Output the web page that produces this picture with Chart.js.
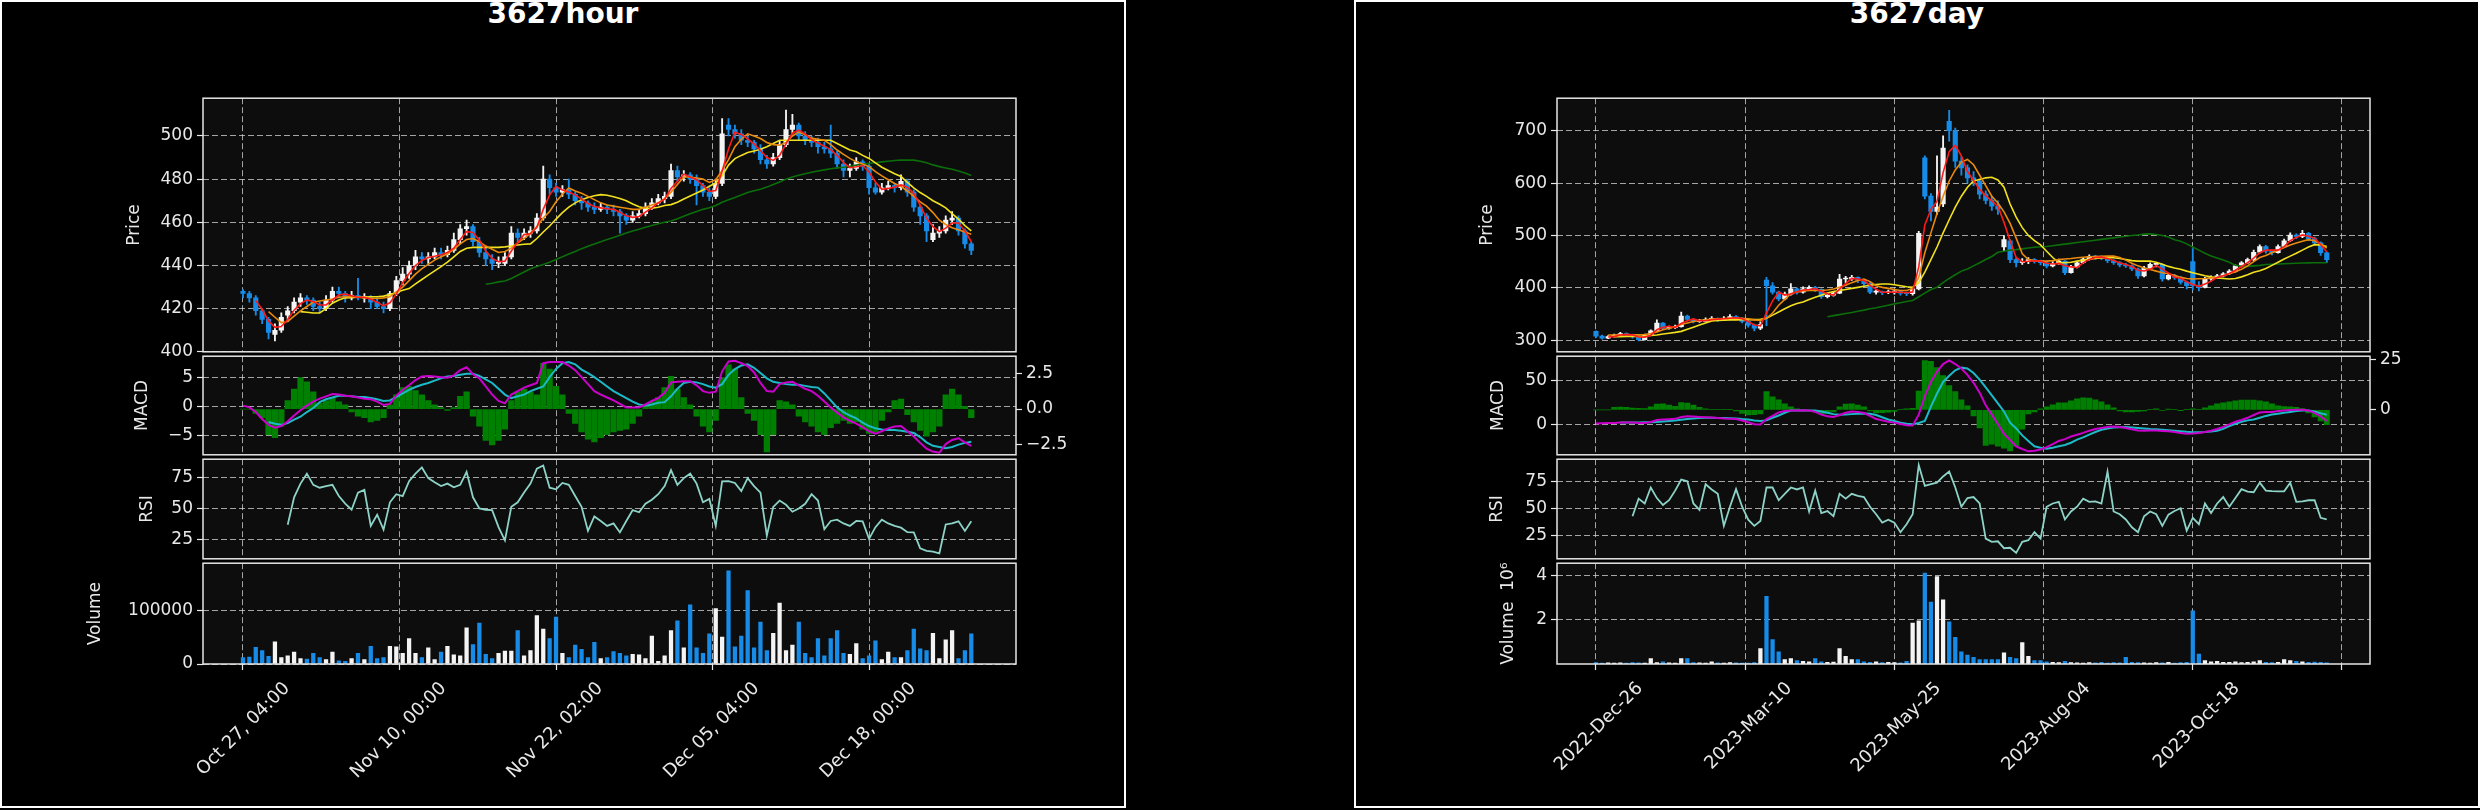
<!DOCTYPE html>
<html>
<head>
<meta charset="utf-8">
<title>3627</title>
<script src="https://cdn.jsdelivr.net/npm/chart.js@4.4.1/dist/chart.umd.min.js"></script>
<style>
html, body { margin: 0; padding: 0; background: #000; }
body { width: 2480px; height: 810px; position: relative; overflow: hidden; }
.fig { position: absolute; top: 0; width: 1126px; height: 808px; border: 2px solid #fff; box-sizing: border-box; }
.ttl { position: absolute; top: 0; width: 1126px; text-align: center; color: #fff; font: bold 28px/28px 'DejaVu Sans', sans-serif; }
canvas { position: absolute; }
</style>
</head>
<body>
<div class="fig" style="left:0"></div>
<div class="fig" style="left:1354px"></div>
<div class="ttl" style="left:0">3627hour</div>
<div class="ttl" style="left:1354px">3627day</div>
<script>
/*######################## DATOS ########################*/
const pad = n => Array(n).fill(null);

// ---- 3627hour (one entry every two hourly bars) ----
const hourTickPos = [0, 24.5, 49, 73.5, 98];
const hourTickLabels = ['Oct 27, 04:00', 'Nov 10, 00:00', 'Nov 22, 02:00', 'Dec 05, 04:00', 'Dec 18, 00:00'];

const hourOpen = [
	428,427,425,419,415,408,410,417,419,423,
	425,424,421,420,424,428,427,425,426,425,
	425,423,421,420,427,433,436,440,444,443,
	444,446,445,447,452,457,458,451,446,443,
	441,441,444,455,453,455,456,462,480,476,
	474,475,473,470,469,467,466,467,466,465,
	463,461,463,464,467,469,471,472,484,481,
	482,480,477,474,472,478,505,503,501,498,
	497,494,489,487,490,496,503,505,500,498,
	497,495,494,492,487,484,485,488,486,476,
	474,476,477,476,479,474,467,463,452,455,
	456,461,462,456,450];
const hourHigh = [
	429,428,426,420,416,413,418,421,425,427,
	426,425,423,426,430,430,428,428,434,427,
	426,425,423,428,435,439,442,447,446,446,
	448,448,449,455,459,461,459,453,448,445,
	444,446,458,457,457,458,464,486,482,478,
	477,480,474,472,470,469,469,468,468,466,
	464,465,466,469,471,473,474,487,486,484,
	483,482,478,476,480,508,508,505,503,500,
	498,496,491,492,498,512,510,506,502,500,
	499,497,505,493,489,487,490,489,487,478,
	478,479,478,482,480,475,468,464,459,458,
	463,465,463,457,451];
const hourLow = [
	425,423,417,413,406,405,409,414,418,421,
	422,419,418,419,423,425,423,424,424,423,
	420,420,418,419,426,431,434,438,441,441,
	443,443,444,446,450,454,449,444,440,438,
	439,440,443,451,452,453,455,461,473,472,
	472,471,468,466,465,464,465,464,463,455,
	459,460,462,463,466,468,469,471,479,479,
	478,468,472,470,471,477,500,499,496,495,
	492,487,485,486,489,495,501,498,496,495,
	492,492,490,485,481,481,484,484,473,473,
	473,475,474,475,472,465,459,451,451,453,
	455,459,454,448,445];
const hourClose = [
	427,425,419,415,409,410,416,419,423,425,
	424,421,420,424,428,427,425,426,425,425,
	423,421,420,427,433,436,440,444,443,444,
	446,445,447,452,457,458,451,446,443,441,
	441,444,455,453,455,456,462,480,476,474,
	475,473,470,469,467,466,467,466,465,463,
	461,463,464,467,469,471,472,484,481,482,
	480,477,474,472,478,501,503,501,498,497,
	494,489,487,490,496,503,505,500,498,497,
	495,494,492,487,484,485,488,486,476,474,
	476,477,476,479,474,467,463,456,455,456,
	461,462,456,450,447];
const hourVolume = [
	12000,13000,31000,25000,14000,41000,12000,15000,22000,10000,
	9000,20000,12000,8000,22000,6000,5000,10000,20000,8000,
	33000,10000,12000,33000,32000,20000,47000,20000,12000,30000,
	8000,22000,33000,17000,15000,67000,36000,76000,18000,10000,
	20000,24000,24000,62000,15000,25000,90000,65000,47000,87000,
	20000,12000,35000,27000,12000,40000,10000,12000,23000,20000,
	15000,18000,17000,10000,52000,5000,15000,62000,80000,30000,
	110000,30000,20000,56000,103000,50000,173000,32000,52000,136000,
	30000,78000,25000,57000,113000,25000,35000,78000,20000,12000,
	47000,15000,47000,62000,20000,18000,38000,10000,15000,43000,
	8000,22000,12000,12000,25000,65000,28000,25000,57000,10000,
	45000,62000,10000,25000,56000];
const hourMaRed = [...pad(2),
	423.7,419.7,414.3,411.3,411.7,415,419.3,422.3,
	424,423.3,421.7,421.7,424,426.3,426.7,426,425.3,425.3,
	424.3,423,421.3,422.7,426.7,432,436.3,440,442.3,443.7,
	444.3,445,446,448,452,455.7,455.3,451.7,446.7,443.3,
	441.7,442,446.7,450.7,454.3,454.7,457.7,466,472.7,476.7,
	475,474,472.7,470.7,468.7,467.3,466.7,466.3,466,464.7,
	463,462.3,462.7,464.7,466.7,469,470.7,475.7,479,482.3,
	481,479.7,477,474.3,474.7,483.7,494,501.7,500.7,498.7,
	496.3,493.3,490,488.7,491,496.3,501.3,502.7,501,498.3,
	496.7,495.3,493.7,491,487.7,485.3,485.7,486.3,483.3,478.7,
	475.3,475.7,476.3,477.3,476.3,473.3,468,462,458,455.7,
	457.3,459.7,459.7,456,451];
const hourMaOrange = [...pad(4),
	418.6,416,413.5,414,416.5,419,
	421,423,423.5,424,424.5,425.3,425.5,425.5,425.3,425,
	424.8,424.7,425,425.5,427.8,430,433,436,438.5,440.5,
	442.5,444,445.3,447.5,450,452,452.5,451,449,447.5,
	446,446.5,448,450.5,452.5,455,458,462,465,469.5,
	473,475.9,474.5,473.5,472,470.5,469,468,467.5,467,
	466.5,466,466,467,468,469,471,474,477.5,481,
	481,480.5,480,478.5,479.7,484,489,495,498.5,501,
	500,498.8,497,496,495.7,497,500,501.8,500.5,499,
	498.5,498,496,493.5,491.5,489.6,488,487,485.8,483.5,
	481.5,479.7,478,476.6,474.5,472,469.5,467.5,464.5,461,
	459,457.5,456.5,455.5,454.5];
const hourMaYellow = [...pad(9),
	418.6,
	418.3,418,418,420,422.5,424,425,425.2,425.3,425.4,
	425.5,425.5,425.8,426.5,427.5,428.5,429.3,431.5,433.5,435.5,
	437.5,439.5,441.5,444,446.5,448,448.4,448.4,448.4,448.4,
	448.4,448.6,449,449.5,449.8,450,452.5,455.5,458.3,461.5,
	464.5,467,469,470.5,471.5,472.3,472.8,472.5,471.8,471,
	470,468.5,467.2,466.5,466.5,467,467.8,468.2,469.3,470.8,
	472.2,473.6,475,476.7,478.2,481.5,486.5,489.5,491,492.3,
	493,493.8,495,496.5,498,498,498,498,498,498,
	498,498,498,496.5,495,493.5,492.7,491,489.6,487.5,
	485.5,484,482.5,481.2,478.5,476,473.8,472,470,468.5,
	466.7,464,461.5,458.5,456];
const hourMaGreen = [...pad(38),
	431.3,431.8,
	432.4,432.8,434,435.5,437,438.5,439.5,440.5,441.5,442.8,
	444,445.3,446.5,447.8,448.9,450,451,452,453,454,
	455,456,456.8,457.7,458.5,459.3,460,460.6,461.6,462.8,
	464,465,466,466.7,467.8,469.3,470.5,471.5,472.7,473.8,
	474.6,475.3,476.3,477.5,478.7,480,481,481.8,482.5,483.2,
	483.8,484.3,484.8,485.2,485.5,486,486.5,487,487.3,487.6,
	488,488.3,488.6,488.8,488.9,488.8,488.3,487.6,486.6,485.8,
	485.2,484.6,483.8,482.8,481.7];
const hourMacd = [
	0.1,-0.2,-1.0,-2.2,-3.2,-3.7,-3.4,-2.6,-1.6,-0.7,
	0.1,0.8,1.3,1.7,2.1,2.0,1.8,1.7,1.5,1.3,
	1.2,0.8,0.2,0.4,1.8,2.8,3.6,4.5,5.1,5.2,
	5.1,5.0,4.9,5.3,6.2,6.7,5.5,4.8,3.4,2.0,
	0.9,0.5,2.0,2.6,3.2,3.6,4.0,7.4,7.6,7.6,
	7.6,7.0,6.2,5.0,3.8,2.6,2.0,1.5,1.0,0.4,
	-0.2,-0.2,-0.2,0.3,0.9,1.4,2.3,4.1,4.2,4.3,
	4.3,3.6,2.6,2.3,2.5,6.0,7.7,7.8,7.4,6.9,
	5.8,4.0,2.6,2.5,3.8,4.1,4.2,3.6,3.0,2.6,
	1.8,0.8,-0.2,-1.1,-1.9,-2.5,-3.0,-3.6,-4.3,-4.7,
	-4.3,-3.8,-3.5,-3.4,-4.3,-5.2,-6.3,-7.3,-7.8,-8.0,
	-6.5,-5.8,-5.5,-6.2,-6.8];
const hourSignal = [...pad(4),
	-2.7,-3.0,-3.2,-2.9,-2.3,-1.8,
	-1.0,-0.3,0.7,1.2,1.5,1.8,1.8,1.7,1.6,1.6,
	1.4,1.2,0.9,1.0,1.6,2.2,2.8,3.3,3.7,4.0,
	4.4,4.8,5.1,5.2,5.4,5.6,5.6,5.2,4.6,4.0,
	3.0,2.0,1.4,1.7,2.0,2.6,3.0,3.4,5.0,6.4,
	7.4,7.6,7.2,6.3,5.7,5.0,4.2,3.4,2.6,2.0,
	1.4,0.8,0.3,0.1,0.3,0.6,0.7,1.7,3.0,4.0,
	4.2,4.1,3.8,3.4,3.2,3.8,5.4,6.4,7.0,7.2,
	6.6,5.7,4.8,4.2,4.0,3.8,3.7,3.7,3.5,3.3,
	3.2,2.2,1.0,-0.2,-1.0,-1.6,-2.1,-2.8,-3.4,-3.8,
	-4.0,-4.1,-4.1,-4.2,-4.4,-4.6,-5.3,-6.2,-6.8,-7.0,
	-7.2,-7.0,-6.6,-6.3,-6.1];
const hourHist = [
	0,0,-0.3,-0.6,-1.8,-2.0,-1.2,0.6,1.4,2.2,
	1.9,1.2,0.4,0.6,0.8,0.5,0.3,-0.2,-0.5,-0.6,
	-0.9,-0.8,-0.6,0.3,1.0,1.5,1.6,1.3,1.0,0.6,
	0.3,0.1,-0.1,0.1,0.9,1.2,-0.5,-1.2,-2.2,-2.5,
	-2.2,-1.4,0.6,1.2,1.4,1.2,1.0,3.2,2.8,1.6,
	1.0,-0.3,-1.0,-1.6,-2.1,-2.3,-2.0,-1.8,-1.6,-1.5,
	-1.4,-1.0,-0.5,0.3,0.5,0.8,1.5,2.3,1.4,0.8,
	0.3,-0.5,-1.2,-1.6,-0.8,2.2,3.1,2.8,0.8,-0.3,
	-0.8,-1.8,-3.0,-1.8,0.6,0.5,0.3,-0.5,-0.9,-1.2,
	-1.6,-1.8,-1.3,-1.0,-0.8,-1.0,-0.9,-1.4,-1.7,-1.6,
	-0.8,-0.2,0.6,0.7,-0.4,-0.9,-1.5,-1.9,-1.6,-1.2,
	1.0,1.4,1.0,0.2,-0.6];
const hourRsi = [...pad(7),
	37,59,70,
	78,69,66.7,68,69,60,54,49,62.8,65,
	36,45,33,55,61.5,60,72,78,83,74.4,
	71,68,70,67,69,79.5,59,50,49,48.7,
	35,24.4,51.3,55,62.8,70,82,84.6,66.7,65.4,
	70.5,69,60,51.3,32,43.6,40,36,38,30.8,
	40,48.7,47,53.8,57,61.5,68,80.8,69,74.4,
	78,70,55,57.7,36,71.8,72,70.5,64,74.4,
	68,62.8,28.2,51.3,56.4,53,47.4,50,53.8,61.5,
	56.4,33.3,40,41,38,36,40,39.7,25.6,35,
	41,38,36,34.6,31,30.8,18,16,15.4,14,
	37.2,38,39.7,32,39.7];

// ---- 3627day (one entry every two daily bars) ----
const dayTickPos = [0, 24.5, 49, 73.5, 98, 122.5];
const dayTickLabels = ['2022-Dec-26', '2023-Mar-10', '2023-May-25', '2023-Aug-04', '2023-Oct-18', ''];

const dayOpen = [
	317,308,304,307,310,313,311,307,301,310,
	318,333,323,324,326,346,340,336,336,340,
	342,339,342,345,342,336,329,323,415,404,
	392,379,388,398,392,398,401,397,383,386,
	390,417,417,420,414,408,392,392,391,392,
	393,390,389,398,648,575,546,560,718,700,
	642,629,610,604,579,567,556,478,490,454,
	448,450,454,451,448,442,447,451,429,440,
	448,455,460,459,457,452,448,444,442,436,
	423,438,445,445,417,424,420,411,450,404,
	401,417,420,423,427,432,442,448,454,468,
	479,470,467,479,490,501,498,504,494,486,467];
const dayHigh = [
	318,310,309,312,315,314,312,308,312,320,
	339,334,327,329,354,348,342,340,343,345,
	343,345,349,347,343,338,331,335,420,410,
	394,392,408,400,402,404,403,398,390,393,
	426,422,424,421,416,410,396,394,396,395,
	394,392,400,508,652,580,652,690,739,705,
	650,635,622,608,585,575,566,500,492,458,
	456,458,456,453,450,450,455,452,443,450,
	458,463,462,461,458,454,450,447,444,438,
	441,448,447,446,427,426,422,413,475,412,
	420,423,426,429,435,444,450,457,472,482,
	481,472,482,493,505,503,510,506,497,488,469];
const dayLow = [
	305,302,303,306,309,309,304,299,300,309,
	317,320,321,322,325,337,333,334,335,338,
	336,338,341,340,333,325,318,320,328,388,
	375,377,386,388,390,395,393,380,381,384,
	389,410,414,410,404,389,388,387,389,388,
	386,385,386,396,570,528,540,555,680,630,
	615,600,595,570,560,548,540,470,448,440,
	445,446,447,444,438,440,445,425,428,438,
	446,453,455,454,448,445,440,439,433,418,
	421,436,440,413,415,416,407,398,396,394,
	400,414,418,421,425,430,440,446,452,466,
	466,463,466,477,488,494,496,490,482,462,448];
const dayClose = [
	308,304,307,310,313,311,307,301,310,318,
	333,323,324,326,346,340,336,336,340,342,
	339,342,345,342,336,329,323,330,404,392,
	379,388,398,392,398,401,397,383,386,390,
	417,417,420,414,408,392,392,391,392,393,
	390,389,398,504,575,546,554,667,700,642,
	629,610,604,579,567,556,550,492,454,448,
	450,454,451,448,442,447,451,429,440,448,
	455,460,459,457,452,448,444,442,436,423,
	438,445,445,417,424,420,411,404,404,401,
	417,420,423,427,432,442,448,454,468,479,
	470,467,479,490,501,498,504,494,486,467,454];
const dayVolume = [
	60000,40000,50000,45000,55000,40000,60000,50000,45000,250000,
	60000,100000,50000,40000,250000,240000,60000,50000,40000,100000,
	50000,40000,60000,50000,45000,40000,60000,700000,3050000,1100000,
	550000,200000,250000,150000,120000,100000,250000,100000,80000,90000,
	700000,350000,200000,200000,100000,80000,100000,60000,70000,60000,
	50000,120000,1850000,1950000,4100000,2800000,3950000,2900000,1900000,1200000,
	550000,400000,300000,200000,200000,200000,200000,500000,300000,250000,
	970000,350000,150000,150000,100000,80000,60000,120000,60000,50000,
	40000,60000,50000,70000,40000,60000,50000,300000,70000,60000,
	50000,40000,60000,50000,70000,40000,60000,80000,2400000,450000,
	150000,100000,120000,80000,70000,100000,60000,80000,100000,150000,
	80000,60000,80000,200000,150000,120000,100000,80000,90000,70000,50000];
const dayMaRed = [...pad(2),
	306.3,307,310,311.3,310.3,306.3,306,309.7,
	320.3,324.7,326.7,324.3,332,337.3,340.7,337.3,337.3,339.3,
	340.3,341,342,343,341,335.7,329.3,327.3,352.3,375.3,
	391.7,386.3,388.3,392.7,396,397,398.7,393.7,388.7,386.3,
	397.7,408,418,417,414,404.7,397.3,391.7,391.7,392,
	391.7,390.7,392.3,440,520,550,565,620,660,672,
	652,622,605,588,576,566,556,525,490,458,
	450,450.7,451.7,451,447,445.7,446.7,442.3,440,439,
	447.7,454.3,458,458.7,456,452.3,448,444.7,440.7,433.7,
	432.3,435.3,442.7,435.7,428.7,420.3,418.3,411.7,406.3,403,
	407.3,412.7,420,423.3,427.3,433.7,440.7,448,456.7,467,
	472.3,472,472,478.7,490,496.3,501,498.7,494.7,482.3,469];
const dayMaOrange = [...pad(2),
	310,310,310.5,310.5,310.5,310.6,311,313,
	316,320,323,326,330,333,336,338,339,340.6,
	341,341.5,342,342,342,341,339,338,342,352,
	367,378,389,392,394,395,395,395,396,398,
	401,405,410,414,417,412,404,401,399,397,
	395,395,399,420,467,505,542,575,604,625,
	640,645,635,615,595,575,562,545,523,495,
	465,454,452,451,451,452,454,455,456,457.5,
	458.5,459.5,460,460.5,460.6,460.6,458,453,447,442,
	438,435,432,429,427,424,420,418,417,417.5,
	418,419,420,423,427,431,435.6,442,450,458,
	462,467,472,477,482,485.6,489,492,490,484,476];
const dayMaYellow = [...pad(3),
	307,307,307.3,307.5,307.5,308,309,
	310,312,313.5,315,317,321,325,329,333,337,
	338,338.5,339,339,339.5,339.5,339.5,340,342,348,
	354,360,366,370,373,378,382,386,390,393,
	395,397,399,401,403,405,406.5,407.5,407.5,406,
	404,402,401,410,430,454,478,505,530,554,
	575,592,604,607,610,611,606,592,560,535,
	515,500,490,482,470,458,448,448,449,451,
	453,454.5,456,457,457.5,457.5,456,454,452,451,
	451,451,449,445,441,438,435.6,432,429,426,
	423,421,419,418,417,418,421,425,430,432.5,
	437,443,449,455,460.6,466,472,478,482.5,482,479];
const dayMaGreen = [...pad(38),
	345,347,
	349,351,353,355.5,357.5,360,362,364.5,367,369.5,
	371.5,374,376,383,390,397,401,410,418,425,
	432,436,442,448,454,460,468,470,472,473,
	474.5,476,477.5,478.5,479,480.5,482,483.5,485,486.5,
	488,489.5,491,492.5,494,495.5,497,498.5,500,501,
	502.5,503,502,500,497,492,489,484,478,472,
	466,461,457,453,449,443,441,441,442,443,
	444.5,445,445.5,446,446.5,447,447.5,447.8,448,448,448];
const dayMacd = [
	1.4,1.7,2,2.2,2.5,2.7,2.6,2,2.2,3.2,
	5.5,6,6.3,6.7,8.8,9.6,9.3,8.8,8.4,8.1,
	7.6,7,6.9,6.5,4.8,2.9,0.7,0.5,6.5,10,
	14,15.5,16,16,16.2,16,14.5,11.5,9.5,8.8,
	11,13.5,15,14.5,13.2,10,6.5,5,3.5,2.5,
	1,-0.5,-0.8,11.4,32,48,59.6,68,72,68,
	63,56,47,36,22,11.4,1,-10,-17,-24,
	-27,-29.6,-29,-27.5,-25,-21.5,-18,-16,-13,-11,
	-9,-6.5,-4.6,-3.5,-2.5,-1.8,-2.5,-3.5,-5,-6.4,
	-6.5,-6.4,-6.4,-6.8,-7.2,-8,-9,-10,-9.8,-9,
	-8,-6.5,-4.6,-2.2,0.5,3.5,5.5,7.9,11,13.9,
	14.5,14.5,15.4,16,16.5,16.8,16.8,16,13.5,9.6,4.3];
const daySignal = [...pad(4),
	2.5,2.6,2.7,2.7,2.8,3,
	3.2,3.7,4.3,5,5.7,6.5,7.2,7.6,7.9,7.9,
	7.8,7.6,7.4,7.2,6.5,6,5,4.3,5,7.9,
	10.5,13.5,16,16,16,16,16,15,13.5,12,
	11.4,11.6,12,12.4,12.6,12.5,11,8.5,6,4.3,
	2.5,1.3,0.7,2,4.3,20.4,35,48,55,61,
	64,63,58,50.7,42,33,24,15,2.5,-4,
	-11.8,-18,-24,-25.5,-26.8,-25.5,-24,-22.5,-20,-16.5,
	-14,-11,-8,-5.5,-4,-2.9,-2.6,-2.5,-3,-3.5,
	-4,-4.6,-5,-5.4,-6,-6.6,-7.2,-7.8,-8.2,-8.2,
	-8,-7.5,-6.5,-4.5,-1.5,1.2,3.5,5,6,8,
	10,11.5,12.5,13.5,14.5,15.5,16,16,15,13,11.4];
const dayHist = [
	0,0,0,1.2,1.4,1.2,0.9,0.8,0.6,1.5,
	2.8,3,2.4,1.8,3.6,3.3,2.4,1.3,0.5,0.2,
	0.3,0.3,0.2,-0.5,-1.8,-2.5,-2.4,-2,9,6.5,
	5,3,1.5,0.5,0.2,-0.2,-1,-2,-1.8,-1,
	1.5,2.8,3,2.4,1.5,-0.6,-1.5,-1.4,-1.2,-0.8,
	0.3,0.5,0.8,9.3,24.4,24,21,17,12,9,
	5,2,-3,-9,-17.6,-17,-18,-19,-20.4,-18,
	-9.6,-2,-1,0.5,1.5,2.5,3.5,3.5,4.5,5.5,
	5.9,5.8,5,4,2.5,1,-0.5,-1,-1,-0.8,
	-0.5,0.3,0.5,-0.3,0.4,0.2,-0.4,0.3,0.5,0.2,
	1,2,3,3.5,4,4.5,4.8,4.9,4.9,4.5,
	4,3,2,1.6,1.5,1.2,0.6,-1.5,-3.5,-5.5,-7.3];
const dayRsi = [...pad(6),
	43.2,59.5,55,69.8,
	60,53.6,58,66.9,77.2,75.7,55,49.1,72.8,68,
	63.9,34.3,52,68.3,52,40,34.3,38.8,69.8,69.8,
	58,64,69.8,68,69.8,47.6,66.9,46.2,48,43.2,
	63.9,59.5,63.9,62,61,52,45,37.3,40,37.3,
	28.4,35.8,45,90.5,71.3,73,74.3,80,84.6,69.8,
	52,60,61,55,22.5,19.5,20,13.6,14,9.2,
	19.5,21,28.4,22.5,52,55,56.5,40.2,47.6,52,
	59.5,56.5,57,55,84.6,47.6,45,40.2,33,28.4,
	43.2,47.6,45,34.3,44.7,48,50.6,29.9,41.7,35.8,
	55,46.2,55,61,52,60,68.3,66,65.4,74.3,
	66.9,66.5,66.3,66.3,74.3,56.5,57,58,58,41.7,40.2];

/*######################## ESTILO ########################*/
const TXT = '#e8e8e8';
const GRID = 'rgba(215,215,215,0.75)';
const FACE = '#0d0d0d';
const UP = '#f4f4f4';
const DOWN = '#168ce8';
const PLOT_L = 203, PLOT_R = 1016, CANVAS_R = 1100, FIG_B = 808;

Chart.defaults.font.family = "'DejaVu Sans', sans-serif";
Chart.defaults.color = TXT;

const minus = s => String(s).replace('-', '\u2212');

// axes background and the white frame around every panel
const panelFrame = {
	id: 'panelFrame',
	beforeDraw(chart) {
		const a = chart.chartArea, c = chart.ctx;
		c.save(); c.fillStyle = FACE; c.fillRect(a.left, a.top, a.width, a.height); c.restore();
	},
	afterDraw(chart) {
		const a = chart.chartArea, c = chart.ctx;
		c.save(); c.strokeStyle = '#e6e6e6'; c.lineWidth = 1.5; c.strokeRect(a.left, a.top, a.width, a.height); c.restore();
	}
};

const xy = arr => arr.map((v, i) => ({x: i, y: v}));
const span = (a, b) => a.map((v, i) => ({x: i, y: [v, b[i]]}));
const dirColors = (o, c) => c.map((v, i) => v >= o[i] ? UP : DOWN);
const line = (arr, color, w, axis) => ({type: 'line', data: xy(arr), borderColor: color, borderWidth: w,
	pointRadius: 0, tension: 0, yAxisID: axis || 'y', order: 1});

function makePanel(figX, p) {
	const left = Math.round(figX + p.titleX - 10.2);
	const top = p.top - 12;
	const bottom = p.labels ? FIG_B : p.bottom + 12;
	const cv = document.createElement('canvas');
	cv.width = figX + CANVAS_R - left;
	cv.height = bottom - top;
	cv.style.left = left + 'px';
	cv.style.top = top + 'px';
	document.body.appendChild(cv);

	const scales = {
		x: {
			type: 'linear', min: p.xMin, max: p.xMax, bounds: 'data', offset: false,
			afterBuildTicks: s => { s.ticks = p.xTicks.map(v => ({value: v})); },
			afterFit: s => { s.height = p.labels ? bottom - p.bottom : 0; },
			ticks: {display: !!p.labels, autoSkip: false, minRotation: 45, maxRotation: 45, labelOffset: 44, padding: 8,
				callback: (v, i) => p.labels ? p.labels[i] : '', font: {size: 18}, color: TXT},
			grid: {offset: false, color: GRID, lineWidth: 1, drawTicks: !!p.labels, tickLength: 6, tickColor: TXT, tickWidth: 1.2},
			border: {display: false, dash: [6, 3]}
		},
		y: {
			type: 'linear', position: 'left', min: p.yMin, max: p.yMax, bounds: 'data',
			afterBuildTicks: s => { s.ticks = p.yTicks.map(v => ({value: v})); },
			afterFit: s => { s.width = figX + PLOT_L - left; },
			ticks: {callback: p.yFmt || (v => minus(v)), font: {size: 17}, color: TXT, padding: 4},
			grid: {color: GRID, lineWidth: 1, tickLength: 6, tickColor: TXT, tickWidth: 1.2},
			border: {display: false, dash: [6, 3]},
			title: {display: true, text: p.title, font: {size: 17}, color: TXT, padding: 0}
		}
	};
	if (p.right) {
		scales.y2 = {
			type: 'linear', position: 'right', min: p.right.min, max: p.right.max, bounds: 'data',
			afterBuildTicks: s => { s.ticks = p.right.ticks.map(v => ({value: v})); },
			afterFit: s => { s.width = CANVAS_R - PLOT_R; },
			ticks: {callback: p.right.fmt, font: {size: 17}, color: TXT, padding: 4},
			grid: {drawOnChartArea: false, tickLength: 6, tickColor: TXT, tickWidth: 1.2},
			border: {display: false}
		};
	}

	return new Chart(cv.getContext('2d'), {
		type: 'bar',
		data: {datasets: p.datasets},
		options: {
			responsive: false, animation: false, devicePixelRatio: 1, events: [],
			layout: {padding: {left: 0, top: 12, right: p.right ? 0 : CANVAS_R - PLOT_R, bottom: p.labels ? 0 : 12}},
			plugins: {legend: {display: false}, tooltip: {enabled: false}},
			scales: scales
		},
		plugins: [panelFrame]
	});
}

function makeFigure(figX, d) {
	const cols = dirColors(d.open, d.close);
	const base = {xMin: d.xMin, xMax: d.xMax, xTicks: d.xTicks};

	makePanel(figX, Object.assign({}, base, {
		top: 96, bottom: 354, titleX: d.priceTitleX, title: 'Price',
		yMin: d.priceMin, yMax: d.priceMax, yTicks: d.priceTicks,
		datasets: [
			line(d.maRed, '#ff1a1a', 1.6),
			line(d.maOrange, '#ea8a0c', 1.6),
			line(d.maYellow, '#f2e21e', 1.6),
			line(d.maGreen, '#0b6e0b', 1.6),
			{type: 'bar', data: span(d.open, d.close), backgroundColor: cols, barThickness: 4.5, minBarLength: 1, grouped: false, order: 2},
			{type: 'bar', data: span(d.low, d.high), backgroundColor: cols, barThickness: 1.2, grouped: false, order: 3}
		]
	}));

	makePanel(figX, Object.assign({}, base, {
		top: 354, bottom: 457, titleX: d.macdTitleX, title: 'MACD',
		yMin: d.macdMin, yMax: d.macdMax, yTicks: d.macdTicks,
		right: d.histAxis,
		datasets: [
			line(d.macd, '#cc00cc', 2),
			line(d.signal, '#1cb9c9', 2),
			{type: 'bar', data: xy(d.hist), backgroundColor: '#008000', barThickness: d.histW, grouped: false, yAxisID: 'y2', order: 2}
		]
	}));

	makePanel(figX, Object.assign({}, base, {
		top: 457, bottom: 561, titleX: d.rsiTitleX, title: 'RSI',
		yMin: d.rsiMin, yMax: d.rsiMax, yTicks: [25, 50, 75],
		datasets: [line(d.rsi, '#8dd3c7', 1.8)]
	}));

	makePanel(figX, Object.assign({}, base, {
		top: 561, bottom: 664, titleX: d.volTitleX, title: d.volTitle,
		yMin: 0, yMax: d.volMax, yTicks: d.volTicks, yFmt: d.volFmt,
		labels: d.labels,
		datasets: [{type: 'bar', data: xy(d.volume), backgroundColor: cols, barThickness: 3.6, grouped: false}]
	}));
}

/*######################## GRAFICOS ########################*/
makeFigure(0, {
	open: hourOpen, high: hourHigh, low: hourLow, close: hourClose, volume: hourVolume,
	maRed: hourMaRed, maOrange: hourMaOrange, maYellow: hourMaYellow, maGreen: hourMaGreen,
	macd: hourMacd, signal: hourSignal, hist: hourHist, rsi: hourRsi,
	xMin: -6.26, xMax: 121.0, xTicks: hourTickPos, labels: hourTickLabels,
	priceTitleX: 134, priceMin: 400, priceMax: 517.5, priceTicks: [400, 420, 440, 460, 480, 500],
	macdTitleX: 142, macdMin: -8.35, macdMax: 8.6, macdTicks: [-5, 0, 5],
	histAxis: {min: -3.2, max: 3.7, ticks: [-2.5, 0, 2.5], fmt: v => minus(v.toFixed(1))}, histW: 5.6,
	rsiTitleX: 147, rsiMin: 9.6, rsiMax: 89.6,
	volTitleX: 95, volTitle: 'Volume', volMax: 187000, volTicks: [0, 100000], volFmt: v => String(v)
});

makeFigure(1354, {
	open: dayOpen, high: dayHigh, low: dayLow, close: dayClose, volume: dayVolume,
	maRed: dayMaRed, maOrange: dayMaOrange, maYellow: dayMaYellow, maGreen: dayMaGreen,
	macd: dayMacd, signal: daySignal, hist: dayHist, rsi: dayRsi,
	xMin: -6.4, xMax: 127.1, xTicks: dayTickPos, labels: dayTickLabels,
	priceTitleX: 133, priceMin: 278, priceMax: 762, priceTicks: [300, 400, 500, 600, 700],
	macdTitleX: 144, macdMin: -33.5, macdMax: 76.8, macdTicks: [0, 50],
	histAxis: {min: -22.3, max: 26.6, ticks: [0, 25], fmt: v => minus(v)}, histW: 5.3,
	rsiTitleX: 143, rsiMin: 3.8, rsiMax: 96,
	volTitleX: 154, volTitle: 'Volume  10\u2076', volMax: 4550000, volTicks: [2000000, 4000000], volFmt: v => String(v / 1000000)
});
</script>
</body>
</html>
